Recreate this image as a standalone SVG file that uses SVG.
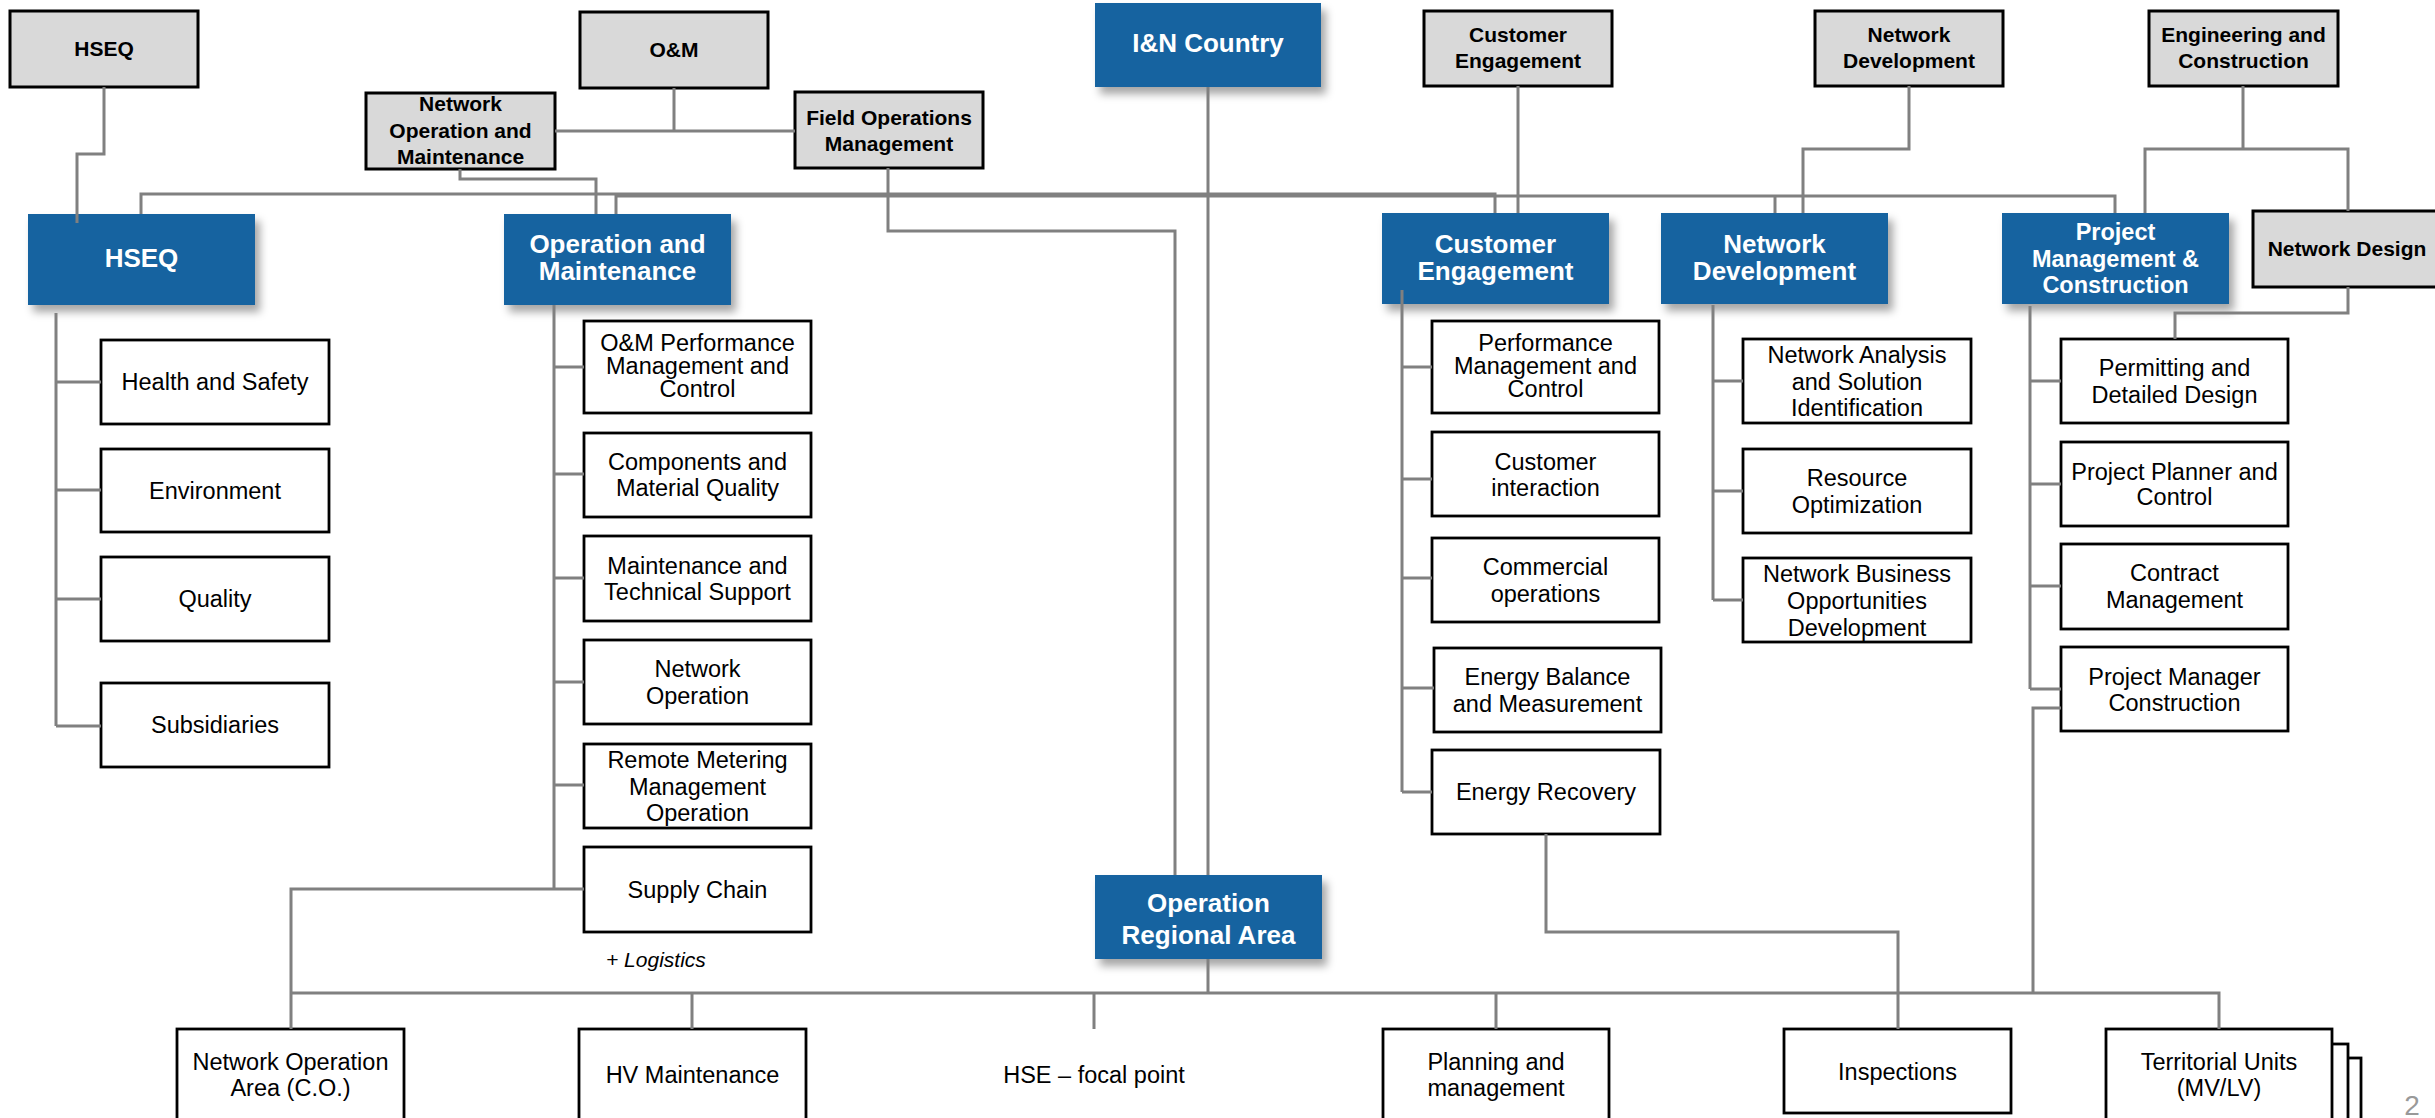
<svg xmlns="http://www.w3.org/2000/svg" width="2435" height="1118" viewBox="0 0 2435 1118">
<defs>
<filter id="sh" x="-10%" y="-10%" width="130%" height="140%">
<feDropShadow dx="5" dy="7" stdDeviation="4" flood-color="#000" flood-opacity="0.35"/>
</filter>
<style>
.blue{fill:#1764a0;filter:url(#sh)}
.gray{fill:#d9d9d9;stroke:#000;stroke-width:3}
.box{fill:#fff;stroke:#000;stroke-width:2.8}
.bt{font-family:"Liberation Sans",Arial,sans-serif;font-weight:bold;font-size:26px;fill:#fff;text-anchor:middle}
.gt{font-family:"Liberation Sans",Arial,sans-serif;font-weight:bold;font-size:21px;fill:#000;text-anchor:middle}
.ct{font-family:"Liberation Sans",Arial,sans-serif;font-size:23.5px;fill:#000;text-anchor:middle}
.ln{fill:none;stroke:#808080;stroke-width:3}
</style>
</defs>
<rect width="2435" height="1118" fill="#fff"/>

<!-- top gray boxes -->
<g id="hseq-gray"><rect class="gray" x="10" y="11" width="188" height="76"/><text class="gt" x="104" y="56">HSEQ</text></g>
<g id="om-gray"><rect class="gray" x="580" y="12" width="188" height="76"/><text class="gt" x="674" y="57">O&amp;M</text></g>
<g id="nom-gray"><rect class="gray" x="366" y="93" width="189" height="76"/><text class="gt" x="460.5" y="111">Network</text><text class="gt" x="460.5" y="138">Operation and</text><text class="gt" x="460.5" y="164">Maintenance</text></g>
<g id="fom-gray"><rect class="gray" x="795" y="92" width="188" height="76"/><text class="gt" x="889" y="125">Field Operations</text><text class="gt" x="889" y="151">Management</text></g>
<g id="ce-gray"><rect class="gray" x="1424" y="11" width="188" height="75"/><text class="gt" x="1518" y="42">Customer</text><text class="gt" x="1518" y="68">Engagement</text></g>
<g id="nd-gray"><rect class="gray" x="1815" y="11" width="188" height="75"/><text class="gt" x="1909" y="42">Network</text><text class="gt" x="1909" y="68">Development</text></g>
<g id="ec-gray"><rect class="gray" x="2149" y="11" width="189" height="75"/><text class="gt" x="2243.5" y="42">Engineering and</text><text class="gt" x="2243.5" y="68">Construction</text></g>
<g id="ndes-gray"><rect class="gray" x="2253" y="211" width="188" height="76"/><text class="gt" x="2347" y="256">Network Design</text></g>

<!-- blue boxes -->
<g id="in-country"><rect class="blue" x="1095" y="3" width="226" height="84"/><text class="bt" x="1208" y="52">I&amp;N Country</text></g>
<g id="hseq"><rect class="blue" x="28" y="214" width="227" height="91"/><text class="bt" x="141.5" y="267">HSEQ</text></g>
<g id="om"><rect class="blue" x="504" y="214" width="227" height="91"/><text class="bt" x="617.5" y="253">Operation and</text><text class="bt" x="617.5" y="280">Maintenance</text></g>
<g id="ce"><rect class="blue" x="1382" y="213" width="227" height="91"/><text class="bt" x="1495.5" y="253">Customer</text><text class="bt" x="1495.5" y="280">Engagement</text></g>
<g id="nd"><rect class="blue" x="1661" y="213" width="227" height="91"/><text class="bt" x="1774.5" y="253">Network</text><text class="bt" x="1774.5" y="280">Development</text></g>
<g id="pmc"><rect class="blue" x="2002" y="213" width="227" height="91"/><text class="bt" x="2115.5" y="240" style="font-size:23.5px">Project</text><text class="bt" x="2115.5" y="267" style="font-size:23.5px">Management &amp;</text><text class="bt" x="2115.5" y="293" style="font-size:23.5px">Construction</text></g>
<g id="ora"><rect class="blue" x="1095" y="875" width="227" height="84"/><text class="bt" x="1208.5" y="912">Operation</text><text class="bt" x="1208.5" y="944">Regional Area</text></g>

<!-- HSEQ children -->
<g id="health"><rect class="box" x="101" y="340" width="228" height="84"/><text class="ct" x="215" y="390">Health and Safety</text></g>
<g id="env"><rect class="box" x="101" y="449" width="228" height="83"/><text class="ct" x="215" y="499">Environment</text></g>
<g id="quality"><rect class="box" x="101" y="557" width="228" height="84"/><text class="ct" x="215" y="607">Quality</text></g>
<g id="subs"><rect class="box" x="101" y="683" width="228" height="84"/><text class="ct" x="215" y="733">Subsidiaries</text></g>

<!-- O&M children -->
<g id="om-perf"><rect class="box" x="584" y="321" width="227" height="92"/><text class="ct" x="697.5" y="351">O&amp;M Performance</text><text class="ct" x="697.5" y="374">Management and</text><text class="ct" x="697.5" y="397">Control</text></g>
<g id="comp"><rect class="box" x="584" y="433" width="227" height="84"/><text class="ct" x="697.5" y="470">Components and</text><text class="ct" x="697.5" y="496">Material Quality</text></g>
<g id="maint"><rect class="box" x="584" y="536" width="227" height="85"/><text class="ct" x="697.5" y="574">Maintenance and</text><text class="ct" x="697.5" y="600">Technical Support</text></g>
<g id="netop"><rect class="box" x="584" y="640" width="227" height="84"/><text class="ct" x="697.5" y="677">Network</text><text class="ct" x="697.5" y="704">Operation</text></g>
<g id="remote"><rect class="box" x="584" y="744" width="227" height="84"/><text class="ct" x="697.5" y="768">Remote Metering</text><text class="ct" x="697.5" y="795">Management</text><text class="ct" x="697.5" y="821">Operation</text></g>
<g id="supply"><rect class="box" x="584" y="847" width="227" height="85"/><text class="ct" x="697.5" y="898">Supply Chain</text></g>
<text x="606" y="967" style="font-family:'Liberation Sans',Arial,sans-serif;font-size:21px;font-style:italic">+ Logistics</text>

<!-- CE children -->
<g id="ce-perf"><rect class="box" x="1432" y="321" width="227" height="92"/><text class="ct" x="1545.5" y="351">Performance</text><text class="ct" x="1545.5" y="374">Management and</text><text class="ct" x="1545.5" y="397">Control</text></g>
<g id="cust-int"><rect class="box" x="1432" y="432" width="227" height="84"/><text class="ct" x="1545.5" y="470">Customer</text><text class="ct" x="1545.5" y="496">interaction</text></g>
<g id="comm"><rect class="box" x="1432" y="538" width="227" height="84"/><text class="ct" x="1545.5" y="575">Commercial</text><text class="ct" x="1545.5" y="602">operations</text></g>
<g id="ebal"><rect class="box" x="1434" y="648" width="227" height="84"/><text class="ct" x="1547.5" y="685">Energy Balance</text><text class="ct" x="1547.5" y="712">and Measurement</text></g>
<g id="erec"><rect class="box" x="1432" y="750" width="228" height="84"/><text class="ct" x="1546" y="800">Energy Recovery</text></g>

<!-- ND children -->
<g id="nasi"><rect class="box" x="1743" y="339" width="228" height="84"/><text class="ct" x="1857" y="363">Network Analysis</text><text class="ct" x="1857" y="390">and Solution</text><text class="ct" x="1857" y="416">Identification</text></g>
<g id="resopt"><rect class="box" x="1743" y="449" width="228" height="84"/><text class="ct" x="1857" y="486">Resource</text><text class="ct" x="1857" y="513">Optimization</text></g>
<g id="nbod"><rect class="box" x="1743" y="558" width="228" height="84"/><text class="ct" x="1857" y="582">Network Business</text><text class="ct" x="1857" y="609">Opportunities</text><text class="ct" x="1857" y="636">Development</text></g>

<!-- PMC children -->
<g id="permit"><rect class="box" x="2061" y="339" width="227" height="84"/><text class="ct" x="2174.5" y="376">Permitting and</text><text class="ct" x="2174.5" y="403">Detailed Design</text></g>
<g id="planner"><rect class="box" x="2061" y="442" width="227" height="84"/><text class="ct" x="2174.5" y="480">Project Planner and</text><text class="ct" x="2174.5" y="505">Control</text></g>
<g id="contract"><rect class="box" x="2061" y="544" width="227" height="85"/><text class="ct" x="2174.5" y="581">Contract</text><text class="ct" x="2174.5" y="608">Management</text></g>
<g id="pmcons"><rect class="box" x="2061" y="647" width="227" height="84"/><text class="ct" x="2174.5" y="685">Project Manager</text><text class="ct" x="2174.5" y="711">Construction</text></g>

<!-- bottom row -->
<g id="noa"><rect class="box" x="177" y="1029" width="227" height="100"/><text class="ct" x="290.5" y="1070">Network Operation</text><text class="ct" x="290.5" y="1096">Area (C.O.)</text></g>
<g id="hv"><rect class="box" x="579" y="1029" width="227" height="100"/><text class="ct" x="692.5" y="1083">HV Maintenance</text></g>
<g id="hse"><text class="ct" x="1094" y="1083">HSE – focal point</text></g>
<g id="plan"><rect class="box" x="1383" y="1029" width="226" height="100"/><text class="ct" x="1496" y="1070">Planning and</text><text class="ct" x="1496" y="1096">management</text></g>
<g id="insp"><rect class="box" x="1784" y="1029" width="227" height="84"/><text class="ct" x="1897.5" y="1080">Inspections</text></g>
<g id="terr"><rect class="box" x="2135" y="1058" width="226" height="100"/><rect class="box" x="2122" y="1044" width="226" height="100"/><rect class="box" x="2106" y="1029" width="226" height="100"/><text class="ct" x="2219" y="1070">Territorial Units</text><text class="ct" x="2219" y="1096">(MV/LV)</text></g>

<text x="2412" y="1115" style="font-family:'Liberation Sans',Arial,sans-serif;font-size:28px;fill:#999;text-anchor:middle">2</text>

<!-- connectors -->
<g id="connectors" class="ln">
<path d="M104 87V154H77V223"/>
<path d="M141 214V194H1495V213"/>
<path d="M616 214V196H2115V213"/>
<path d="M1775 196V213"/>
<path d="M460 169V179H596V214"/>
<path d="M674 88V131H555M674 131H795"/>
<path d="M888 168V231H1175V875"/>
<path d="M1208 87V875M1208 959V993"/>
<path d="M1518 86V213"/>
<path d="M1909 86V149H1803V213"/>
<path d="M2243 86V149H2145V213M2243 149H2348V211"/>
<path d="M2348 287V313H2175V339"/>
<path d="M56 313V726M56 382H101M56 490H101M56 599H101M56 726H101"/>
<path d="M554 305V889M554 367H584M554 474H584M554 578H584M554 682H584M554 785H584M584 889H291V1029"/>
<path d="M1402 290V792M1402 367H1432M1402 479H1432M1402 578H1432M1402 688H1434M1402 792H1432"/>
<path d="M1713 305V600M1713 381H1743M1713 491H1743M1713 600H1743"/>
<path d="M2030 306V689M2030 381H2061M2030 484H2061M2030 586H2061M2030 689H2061"/>
<path d="M2061 708H2033V993"/>
<path d="M1546 834V932H1898V1029"/>
<path d="M291 993H2219V1029M692 993V1029M1094 993V1029M1496 993V1029"/>
</g>
</svg>
